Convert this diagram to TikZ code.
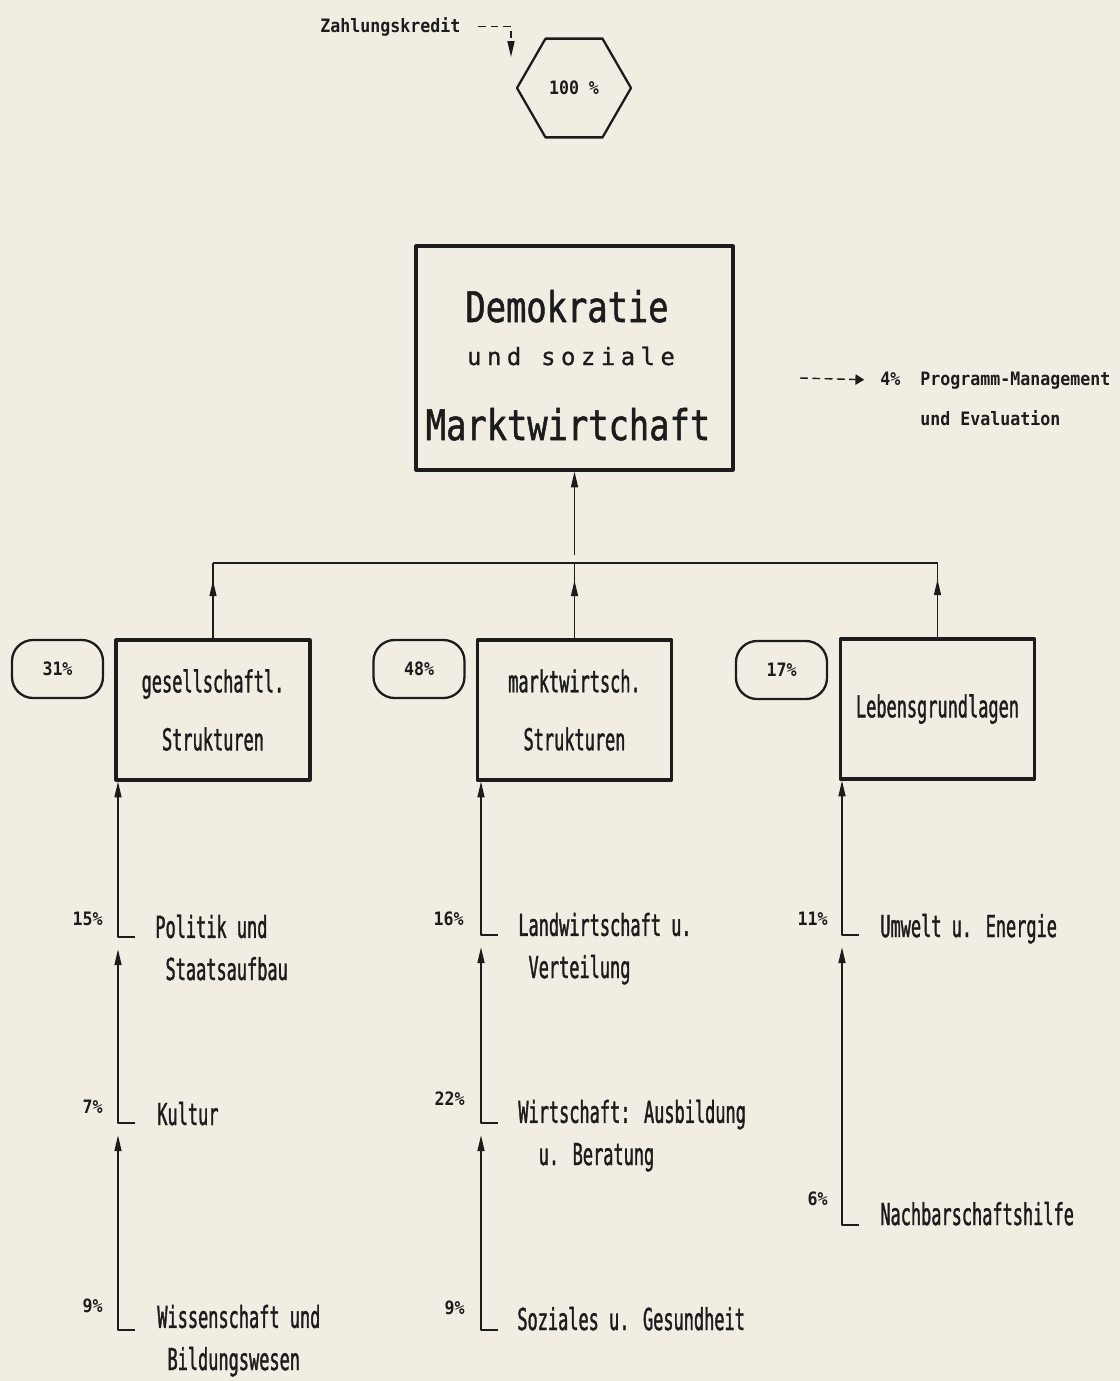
\documentclass[tikz,border=0pt]{standalone}
\usepackage{fontspec}
\usepackage{tikz}
\usetikzlibrary{shapes.geometric,arrows.meta,positioning}
\definecolor{papier}{HTML}{F2EDE3}
\definecolor{tinte}{HTML}{1C1C1C}
\newfontfamily\plotfont[FakeStretch=0.56,FakeBold=1.2]{DejaVu Sans Mono}
\newfontfamily\titelfont[FakeStretch=0.8,FakeBold=1.2]{DejaVu Sans Mono}
\newfontfamily\kleinfont[FakeStretch=0.9]{DejaVu Sans Mono}
\newfontfamily\sperrfont[LetterSpace=23,FakeBold=0.8]{DejaVu Sans Mono}
\newcommand{\postenschrift}{\plotfont\fontsize{17.2}{24}\selectfont}
\newcommand{\bereichschrift}{\plotfont\fontsize{17.2}{33}\selectfont}
\newcommand{\titelschrift}{\titelfont\fontsize{24}{28}\selectfont}
\newcommand{\kleinschrift}{\kleinfont\bfseries\fontsize{10.5}{12}\selectfont}

\begin{document}
\begin{tikzpicture}[x=0.2mm,y=-0.2mm,line join=round,
    posten/.style={font=\postenschrift,text=tinte,anchor=base west,align=left,inner sep=0pt},
    prozent/.style={font=\kleinschrift,text=tinte,anchor=base east,inner sep=0pt},
    bereich/.style={draw=tinte,line width=1.8pt,minimum width=38.8mm,minimum height=28mm,
      align=center,font=\bereichschrift,text=tinte},
    anteil/.style={draw=tinte,line width=1.3pt,rounded corners=12pt,minimum width=18.2mm,
      minimum height=11.6mm,font=\kleinschrift,text=tinte},
    pfeil/.style={draw=tinte,line width=0.8pt,-{Triangle[length=9pt,width=4pt]}},
    strich/.style={draw=tinte,line width=0.8pt,dash pattern=on 4.5pt off 2.5pt}]
  \fill[papier] (0,0) rectangle (1120,1381);

  % Zahlungskredit
  \node[prozent,anchor=base west] (kredit) at (320,32) {Zahlungskredit};
  \node[regular polygon,regular polygon sides=6,draw=tinte,line width=1.3pt,minimum size=22.8mm,
    inner sep=0pt,font=\kleinschrift,text=tinte] (summe) at (574,88) {100 \%};
  \coordinate (kreditziel) at (511,57);
  \draw[strich,pfeil,shorten <=10pt] (kredit.east) -| (kreditziel);

  % Ziel
  \node[draw=tinte,line width=1.8pt,minimum width=63.4mm,minimum height=44.8mm] (ziel) at (574.5,358) {};
  \node[font=\titelschrift,text=tinte,anchor=base,inner sep=0pt] (titel1) at (567,322) {Demokratie};
  \node[font=\sperrfont\fontsize{13.6}{16}\selectfont,text=tinte,anchor=base,inner sep=0pt] (titel2) at (571,365) {und soziale};
  \node[font=\titelschrift,text=tinte,anchor=base,inner sep=0pt] (titel3) at (568,440) {Marktwirtchaft};

  % Programm-Management
  \node[prozent,anchor=base west] (mgmt) at (880,385) {4\%~~Programm-Management};
  \node[prozent,anchor=base west] (mgmt2) at (920,425) {und Evaluation};
  \coordinate (mgmtstart) at (800,378);
  \draw[strich,-{Triangle[length=5pt,width=6pt]},shorten >=9pt] (mgmtstart) -- (mgmt.west);

  % Bereiche
  \node[bereich] (b1) at (213,710) {gesellschaftl.\\Strukturen};
  \node[bereich] (b2) at (574.5,710) {marktwirtsch.\\Strukturen};
  \node[bereich] (b3) at (937.5,709) {Lebensgrundlagen};
  \node[anteil] (a1) at (57.5,669) {31\%};
  \node[anteil] (a2) at (419,669) {48\%};
  \node[anteil] (a3) at (781.5,670) {17\%};

  % Verzweigung
  \coordinate (ast) at (574.5,563);
  \coordinate (astmitte) at (574.5,555);
  \draw[pfeil] (astmitte) -- (ziel.south);
  \draw[draw=tinte,line width=0.8pt] (b1.north |- ast) -- (b3.north |- ast);
  \foreach \b in {b1,b2,b3} {
    \draw[draw=tinte,line width=0.8pt] (\b.north) -- (\b.north |- ast);
    \draw[pfeil] (\b.north) -- ++(0,-58);
  }

  % gesellschaftl. Strukturen
  \coordinate (p15) at (118,937);
  \coordinate (p7) at (118,1123);
  \coordinate (p9a) at (118,1330);
  \node[prozent] (l15) at (103,925) {15\%};
  \node[prozent] (l7) at (103,1113) {7\%};
  \node[prozent] (l9a) at (103,1312) {9\%};
  \node[posten] (t15) at (155,980) {Politik und\\\hphantom{P}Staatsaufbau};
  \node[posten] (t7) at (157,1125) {Kultur};
  \node[posten] (t9a) at (157,1370) {Wissenschaft und\\\hphantom{W}Bildungswesen};
  \draw[pfeil] ([xshift=9.5pt]p15) -- (p15) -- (p15 |- b1.south);
  \draw[pfeil] ([xshift=9.5pt]p7) -- (p7) -- ([yshift=-7pt]p15);
  \draw[pfeil] ([xshift=9.5pt]p9a) -- (p9a) -- ([yshift=-7pt]p7);

  % marktwirtsch. Strukturen
  \coordinate (p16) at (481,935);
  \coordinate (p22) at (481,1123);
  \coordinate (p9b) at (481,1330);
  \node[prozent] (l16) at (464,925) {16\%};
  \node[prozent] (l22) at (465,1105) {22\%};
  \node[prozent] (l9b) at (465,1314) {9\%};
  \node[posten] (t16) at (518,978) {Landwirtschaft u.\\\hphantom{L}Verteilung};
  \node[posten] (t22) at (518,1165) {Wirtschaft: Ausbildung\\\hphantom{Wi}u. Beratung};
  \node[posten] (t9b) at (517,1330) {Soziales u. Gesundheit};
  \draw[pfeil] ([xshift=9.5pt]p16) -- (p16) -- (p16 |- b2.south);
  \draw[pfeil] ([xshift=9.5pt]p22) -- (p22) -- ([yshift=-7pt]p16);
  \draw[pfeil] ([xshift=9.5pt]p9b) -- (p9b) -- ([yshift=-7pt]p22);

  % Lebensgrundlagen
  \coordinate (p11) at (842,935);
  \coordinate (p6) at (842,1225);
  \node[prozent] (l11) at (828,925) {11\%};
  \node[prozent] (l6) at (828,1205) {6\%};
  \node[posten] (t11) at (880,937) {Umwelt u. Energie};
  \node[posten] (t6) at (880,1225) {Nachbarschaftshilfe};
  \draw[pfeil] ([xshift=9.5pt]p11) -- (p11) -- (p11 |- b3.south);
  \draw[pfeil] ([xshift=9.5pt]p6) -- (p6) -- ([yshift=-7pt]p11);
\end{tikzpicture}
\end{document}
